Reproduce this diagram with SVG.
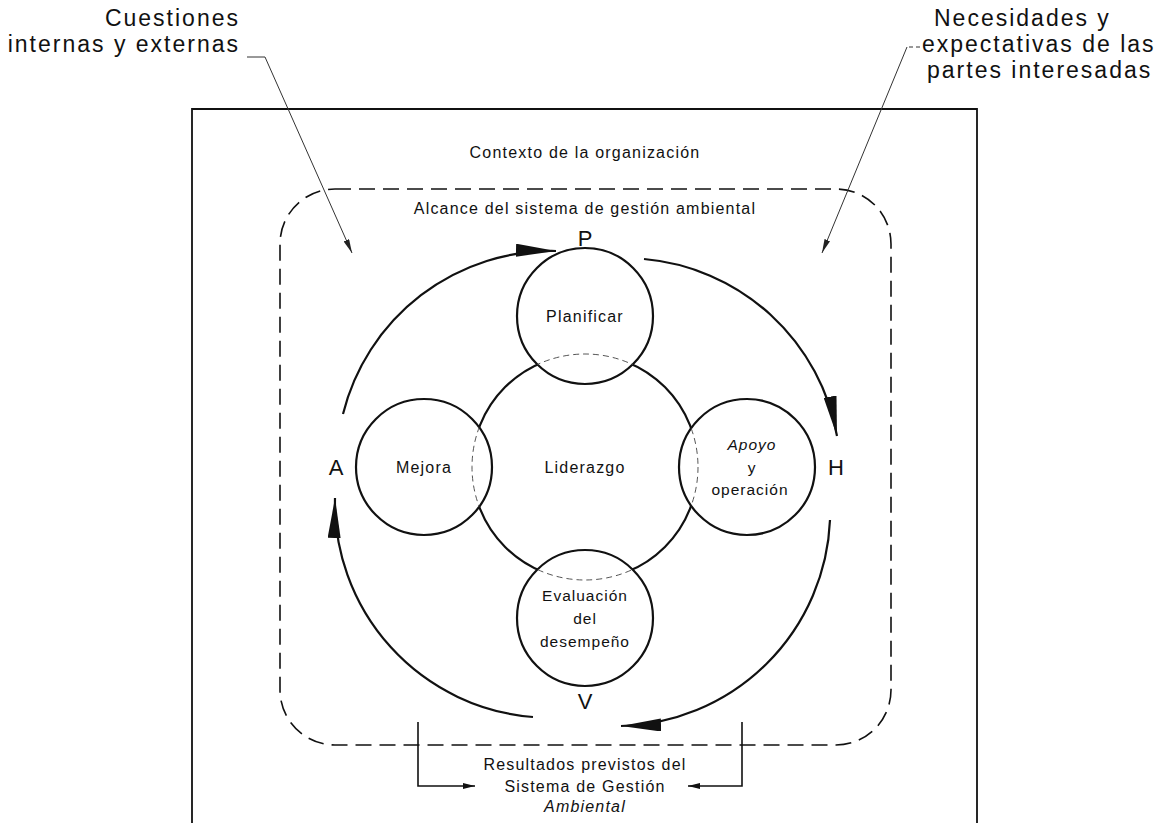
<svg xmlns="http://www.w3.org/2000/svg" width="1166" height="823" viewBox="0 0 1166 823">
<style>
text{font-family:"Liberation Sans",Arial,sans-serif;fill:#111}
.big{font-size:23px;letter-spacing:2px}
.lbl{font-size:16px;letter-spacing:1.2px;text-anchor:middle}
.sm{font-size:15.5px;letter-spacing:1px;text-anchor:middle}
.let{font-size:22px;text-anchor:middle}
.solid{fill:none;stroke:#111;stroke-width:2.2}
.sat{fill:#fff;stroke:#111;stroke-width:2.2}
.dash{fill:none;stroke:#555;stroke-width:1;stroke-dasharray:6 4}
.lead{fill:none;stroke:#333;stroke-width:1}
.cyc{fill:none;stroke:#111;stroke-width:2.2;marker-end:url(#big)}
</style>
<defs>
<marker id="big" markerUnits="userSpaceOnUse" markerWidth="40" markerHeight="13" refX="40" refY="6.5" orient="auto"><path d="M0,0 L40,6.5 L0,13 Z" fill="#111"/></marker>
<marker id="small" markerUnits="userSpaceOnUse" markerWidth="14" markerHeight="6" refX="14" refY="3" orient="auto"><path d="M0,0 L14,3 L0,6 Z" fill="#222"/></marker>
<marker id="mid" markerUnits="userSpaceOnUse" markerWidth="12" markerHeight="6" refX="12" refY="3" orient="auto"><path d="M0,0 L12,3 L0,6 Z" fill="#111"/></marker>
<clipPath id="sats">
<circle cx="585" cy="316" r="68"/><circle cx="424" cy="467" r="68"/><circle cx="747" cy="467" r="68"/><circle cx="585" cy="618" r="68"/>
</clipPath>
</defs>
<g id="context">
<path d="M192,823 L192,109 L977,109 L977,823" fill="none" stroke="#111" stroke-width="1.8"/>
<text class="lbl" x="585" y="158">Contexto de la organización</text>
</g>
<g id="scope">
<rect x="280" y="189" width="611" height="556" rx="55" ry="55" fill="none" stroke="#111" stroke-width="1.6" stroke-dasharray="16 8"/>
<text class="lbl" x="585" y="214">Alcance del sistema de gestión ambiental</text>
</g>
<g id="liderazgo">
<circle class="solid" cx="585" cy="467" r="113"/>
</g>
<g id="planificar"><circle class="sat" cx="585" cy="316" r="68"/><text class="lbl" x="585" y="322">Planificar</text></g>
<g id="mejora"><circle class="sat" cx="424" cy="467" r="68"/><text class="lbl" x="424" y="473">Mejora</text></g>
<g id="apoyo"><circle class="sat" cx="747" cy="467" r="68"/><text class="sm" x="752" y="450" font-style="italic">Apoyo</text><text class="sm" x="752" y="473">y</text><text class="sm" x="750" y="495">operación</text></g>
<g id="evaluacion"><circle class="sat" cx="585" cy="618" r="68"/><text class="sm" x="585" y="601">Evaluación</text><text class="sm" x="585" y="624">del</text><text class="sm" x="585" y="647">desempeño</text></g>
<g id="liderazgo-overlap">
<circle class="dash" cx="585" cy="467" r="113" clip-path="url(#sats)"/>
<text class="lbl" x="585" y="473">Liderazgo</text>
</g>
<g id="pdca-letters">
<text class="let" x="585" y="246">P</text>
<text class="let" x="336" y="475">A</text>
<text class="let" x="836" y="475">H</text>
<text class="let" x="585" y="709">V</text>
</g>
<g id="connectors">
<path class="cyc" d="M343,414 A215,215 0 0 1 556,251"/>
<path class="cyc" d="M644,259 A215,215 0 0 1 837,436"/>
<path class="cyc" d="M830,520 A215,215 0 0 1 621,726"/>
<path class="cyc" d="M533,717 A215,215 0 0 1 335,498"/>
<path class="lead" d="M247,57 L265,57 L352,253" marker-end="url(#small)"/>
<path class="lead" d="M920,47 L907,47" stroke-dasharray="4 3"/>
<path class="lead" d="M907,47 L822,253" marker-end="url(#small)"/>
<path d="M418,722 L418,786 L475,786" fill="none" stroke="#111" stroke-width="1.6" marker-end="url(#mid)"/>
<path d="M742,722 L742,786 L688,786" fill="none" stroke="#111" stroke-width="1.6" marker-end="url(#mid)"/>
</g>
<g id="outside-labels">
<text class="big" x="240" y="26" text-anchor="end">Cuestiones</text>
<text class="big" x="240" y="52" text-anchor="end">internas y externas</text>
<text class="big" x="934" y="26">Necesidades y</text>
<text class="big" x="922" y="52">expectativas de las</text>
<text class="big" x="927" y="78">partes interesadas</text>
</g>
<g id="results">
<text class="lbl" x="585" y="770">Resultados previstos del</text>
<text class="lbl" x="585" y="792">Sistema de Gestión</text>
<text class="lbl" x="585" y="812" font-style="italic">Ambiental</text>
</g>
</svg>
